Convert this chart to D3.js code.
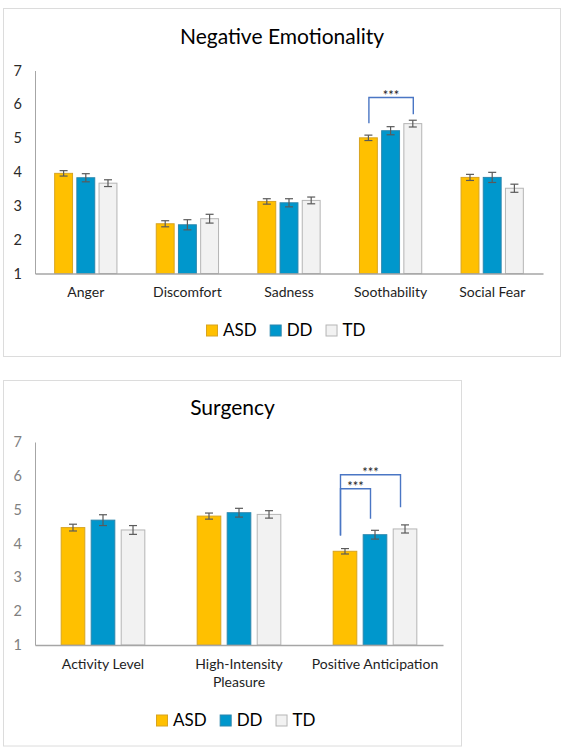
<!DOCTYPE html>
<html>
<head>
<meta charset="utf-8">
<script src="https://cdn.jsdelivr.net/npm/d3@7"></script>
<style>
  html, body { margin: 0; padding: 0; background: #ffffff; }
  svg { display: block; font-family: Lato, "Open Sans", sans-serif; }
</style>
</head>
<body>
<svg id="chart" width="565" height="750"></svg>
<script>
// ---------------- DATA ----------------
const groups = ["ASD", "DD", "TD"];
const yTicks = [1, 2, 3, 4, 5, 6, 7];

// Negative Emotionality
const negTitle = "Negative Emotionality";
const negCategories = ["Anger", "Discomfort", "Sadness", "Soothability", "Social Fear"];
const negASD = [3.96, 2.47, 3.13, 5.01, 3.84];
const negDD  = [3.83, 2.44, 3.09, 5.22, 3.84];
const negTD  = [3.67, 2.62, 3.16, 5.43, 3.52];
const negASDErr = [0.08, 0.09, 0.08, 0.08, 0.09];
const negDDErr  = [0.12, 0.15, 0.12, 0.12, 0.15];
const negTDErr  = [0.10, 0.13, 0.10, 0.10, 0.12];
const negSig = [
  { category: "Soothability", from: "ASD", to: "TD", top: 6.20, fromEnd: 5.44, toEnd: 5.71, label: "***" }
];

// Surgency
const surgTitle = "Surgency";
const surgCategories = ["Activity Level", "High-Intensity Pleasure", "Positive Anticipation"];
const surgASD = [4.47, 4.81, 3.77];
const surgDD  = [4.69, 4.91, 4.26];
const surgTD  = [4.40, 4.86, 4.43];
const surgASDErr = [0.10, 0.09, 0.08];
const surgDDErr  = [0.16, 0.13, 0.13];
const surgTDErr  = [0.13, 0.11, 0.12];
const surgSig = [
  { category: "Positive Anticipation", from: "ASD", to: "TD", top: 6.03, fromEnd: 4.24, toEnd: 5.07, label: "***" },
  { category: "Positive Anticipation", from: "ASD", to: "DD", top: 5.62, fromEnd: 4.24, toEnd: 4.73, label: "***" }
];

// ---------------- STYLE ----------------
const fills   = { ASD: "#ffc000", DD: "#0097cc", TD: "#f2f2f2" };
const strokes = { ASD: "#d8a420", DD: "#2a86ad", TD: "#b5b5b5" };

const svg = d3.select("#chart");

function drawChart(cfg) {
  const g = svg.append("g");
  const seriesVals = { ASD: cfg.asd, DD: cfg.dd, TD: cfg.td };
  const seriesErr = { ASD: cfg.asdErr, DD: cfg.ddErr, TD: cfg.tdErr };

  // panel
  g.append("rect")
    .attr("x", cfg.panel.x).attr("y", cfg.panel.y)
    .attr("width", cfg.panel.w).attr("height", cfg.panel.h)
    .attr("fill", "#fff").attr("stroke", "#dcdcdc").attr("stroke-width", 1);

  // title
  g.append("text")
    .attr("x", cfg.panel.x + cfg.panel.w / 2).attr("y", cfg.titleY)
    .attr("text-anchor", "middle")
    .attr("font-size", 21).attr("fill", "#000")
    .text(cfg.title);

  const y = d3.scaleLinear().domain([1, 7]).range([cfg.plot.yBottom, cfg.plot.yTop]);
  const x0 = d3.scaleBand().domain(cfg.categories).range([cfg.plot.left, cfg.plot.right]).padding(0);
  const bw = x0.bandwidth();
  const off = bw * (1 - cfg.groupFrac) / 2;
  const x1 = d3.scaleBand().domain(groups).range([off, bw - off]).paddingInner(cfg.innerPad).paddingOuter(0);

  const rows = [];
  cfg.categories.forEach((c, i) => {
    groups.forEach(s => rows.push({ cat: c, s, v: seriesVals[s][i], e: seriesErr[s][i] }));
  });

  // bars
  g.append("g").selectAll("rect").data(rows).join("rect")
    .attr("x", d => x0(d.cat) + x1(d.s))
    .attr("y", d => y(d.v))
    .attr("width", x1.bandwidth())
    .attr("height", d => y(1) - y(d.v))
    .attr("fill", d => fills[d.s])
    .attr("stroke", d => strokes[d.s])
    .attr("stroke-width", 1);

  // error bars
  const eb = g.append("g").attr("stroke", "#5a5a5a").attr("stroke-width", 1.2).attr("fill", "none");
  const cap = 4;
  rows.forEach(d => {
    const cx = x0(d.cat) + x1(d.s) + x1.bandwidth() / 2;
    const yh = y(d.v + d.e), yl = y(d.v - d.e);
    eb.append("line").attr("x1", cx).attr("x2", cx).attr("y1", yh).attr("y2", yl);
    eb.append("line").attr("x1", cx - cap).attr("x2", cx + cap).attr("y1", yh).attr("y2", yh);
    eb.append("line").attr("x1", cx - cap).attr("x2", cx + cap).attr("y1", yl).attr("y2", yl);
  });

  // y axis
  const yAxis = g.append("g").attr("transform", `translate(${cfg.plot.left},0)`)
    .call(d3.axisLeft(y).tickValues(yTicks).tickSize(0).tickSizeOuter(0).tickPadding(13).tickFormat(d3.format("d")));
  yAxis.select(".domain").attr("stroke", "#a6a6a6").attr("stroke-width", 1);
  yAxis.selectAll("text").attr("font-size", 14.5).attr("fill", cfg.tickColor).attr("font-family", "Lato, sans-serif");

  // x axis
  const xAxis = g.append("g").attr("transform", `translate(0,${cfg.plot.yBottom})`)
    .call(d3.axisBottom(x0).tickSize(0).tickSizeOuter(0).tickPadding(14));
  xAxis.select(".domain").attr("stroke", "#a6a6a6").attr("stroke-width", 1.5);
  xAxis.selectAll("text").attr("font-size", 14).attr("fill", "#1e1e1e").attr("font-family", "Lato, sans-serif")
    .each(function (d) {
      const t = d3.select(this);
      const len = this.getComputedTextLength();
      if (len > cfg.wrapWidth) {
        const words = d.split(" ");
        t.text(null);
        words.forEach((w, i) => {
          t.append("tspan").attr("x", 0).attr("dy", i === 0 ? "0.71em" : "1.32em").text(w);
        });
        t.attr("dy", null);
      }
    });

  // significance brackets
  const sg = g.append("g");
  cfg.sig.forEach(s => {
    const xa = x0(s.category) + x1(s.from) + x1.bandwidth() / 2 + cfg.sigShift;
    const xb = x0(s.category) + x1(s.to) + x1.bandwidth() / 2 + cfg.sigShift;
    sg.append("path")
      .attr("d", `M${xa},${y(s.fromEnd)}V${y(s.top)}H${xb}V${y(s.toEnd)}`)
      .attr("fill", "none").attr("stroke", "#4a76c4").attr("stroke-width", 1.4);
    sg.append("text")
      .attr("x", (xa + xb) / 2).attr("y", y(s.top) + 2)
      .attr("text-anchor", "middle").attr("font-size", 13).attr("fill", "#222")
      .text(s.label);
  });

  // legend
  const lg = g.append("g");
  const sq = 11, gapText = 5.5, gapItem = 13.5;
  const items = [];
  let xx = 0;
  groups.forEach(s => {
    const t = lg.append("text").attr("font-size", 17).attr("fill", "#000").text(s);
    const w = t.node().getComputedTextLength();
    items.push({ s, t, x: xx, w });
    xx += sq + gapText + w + gapItem;
  });
  const total = xx - gapItem;
  const start = cfg.legendCenter - total / 2;
  items.forEach(it => {
    lg.append("rect")
      .attr("x", start + it.x).attr("y", cfg.legendTop)
      .attr("width", sq).attr("height", sq)
      .attr("fill", fills[it.s]).attr("stroke", strokes[it.s]).attr("stroke-width", 1);
    it.t.attr("x", start + it.x + sq + gapText).attr("y", cfg.legendTop + sq);
  });
}

drawChart({
  title: negTitle, categories: negCategories,
  asd: negASD, dd: negDD, td: negTD,
  asdErr: negASDErr, ddErr: negDDErr, tdErr: negTDErr,
  sig: negSig, sigShift: 0.5,
  panel: { x: 3.5, y: 8.5, w: 557, h: 348 },
  plot: { left: 35, right: 543, yBottom: 273.5, yTop: 70.5 },
  titleY: 44, groupFrac: 0.613, innerPad: 0.194,
  tickColor: "#2a2a2a", wrapWidth: 200,
  legendTop: 325, legendCenter: 286
});

drawChart({
  title: surgTitle, categories: surgCategories,
  asd: surgASD, dd: surgDD, td: surgTD,
  asdErr: surgASDErr, ddErr: surgDDErr, tdErr: surgTDErr,
  sig: surgSig, sigShift: -4.5,
  panel: { x: 3.5, y: 380.5, w: 458, h: 365.5 },
  plot: { left: 35, right: 443, yBottom: 645, yTop: 442 },
  titleY: 415, groupFrac: 0.615, innerPad: 0.213,
  tickColor: "#808080", wrapWidth: 130,
  legendTop: 715, legendCenter: 236
});
</script>
</body>
</html>
